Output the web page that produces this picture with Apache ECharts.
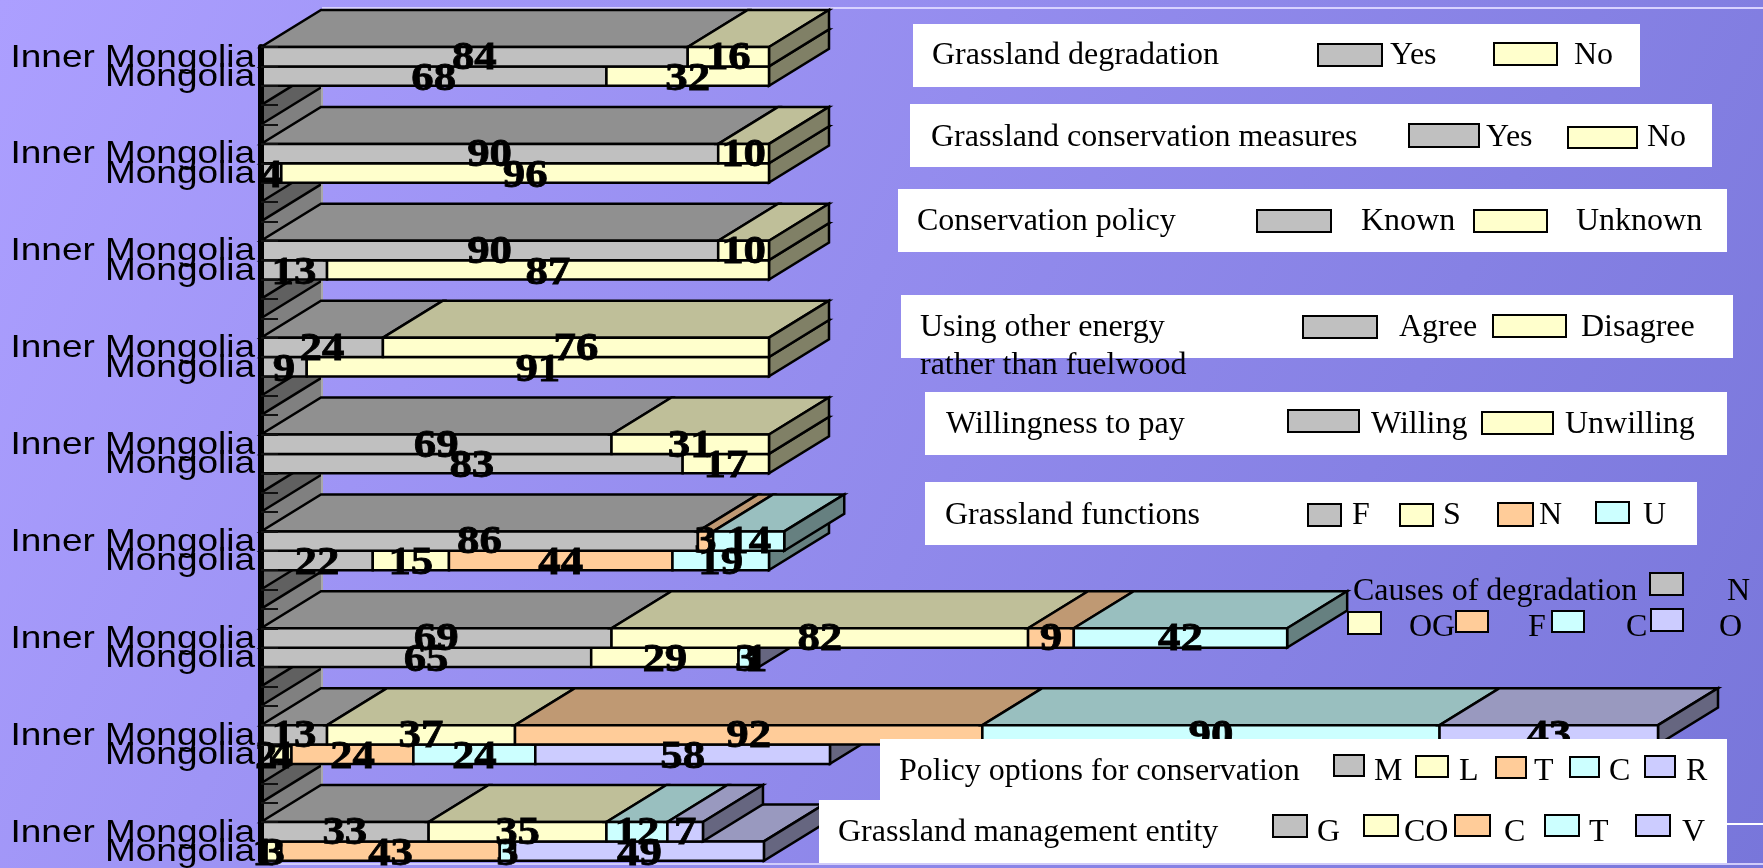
<!DOCTYPE html>
<html>
<head>
<meta charset="utf-8">
<title>Grassland survey: Inner Mongolia and Mongolia</title>
<style>
  html, body { margin: 0; padding: 0; width: 1763px; height: 868px; overflow: hidden; }
  #chart { width: 1763px; height: 868px; }
</style>
<script src="https://cdn.jsdelivr.net/npm/echarts@6/dist/echarts.min.js"></script>
</head>
<body>
<div id="chart"></div>
<script>
// Survey questions run top to bottom; each has an Inner Mongolia row, a Mongolia row and a spacer.
const rowNames = ['Inner Mongolia', 'Mongolia'];
const questionCount = 9;

// Answer shares by stack position, two values per question (Inner Mongolia, Mongolia).
const answer1 = [84, 68, 90, 4, 90, 13, 24, 9, 69, 83, 86, 22, 69, 65, 13, 2, 33, 1];
const answer2 = [16, 32, 10, 96, 10, 87, 76, 91, 31, 17, 0, 15, 82, 29, 37, 4, 35, 3];
const answer3 = [0, 0, 0, 0, 0, 0, 0, 0, 0, 0, 3, 44, 9, 0, 92, 24, 0, 43];
const answer4 = [0, 0, 0, 0, 0, 0, 0, 0, 0, 0, 14, 19, 42, 3, 90, 24, 12, 3];
const answer5 = [0, 0, 0, 0, 0, 0, 0, 0, 0, 0, 0, 0, 0, 1, 43, 58, 7, 49];
const answers = [answer1, answer2, answer3, answer4, answer5];

// Legend wording for each question.
const panelTitles = [
  'Grassland degradation', 'Grassland conservation measures', 'Conservation policy',
  'Using other energy', 'Willingness to pay', 'Grassland functions',
  'Causes of degradation', 'Policy options for conservation', 'Grassland management entity'
];
const panelTitleExtra = 'rather than fuelwood';
const panelEntries = [
  ['Yes', 'No'], ['Yes', 'No'], ['Known', 'Unknown'], ['Agree', 'Disagree'], ['Willing', 'Unwilling'],
  ['F', 'S', 'N', 'U'], ['N', 'OG', 'F', 'C', 'O'], ['M', 'L', 'T', 'C', 'R'], ['G', 'CO', 'C', 'T', 'V']
];

// Face colours for the extruded bars, one per stack position.
const frontColors = ['#C0C0C0', '#FFFFCC', '#FFCC99', '#CCFFFF', '#CCCCFF'];
const topColors = ['#909090', '#BFBF99', '#BF9973', '#99BFBF', '#9999BF'];
const sideColors = ['#606060', '#808066', '#806650', '#668080', '#666680'];
const wallColors = ['#6E6E6E', '#606060', '#808080'];

// Projection of the bar depth on screen.
const DEPTH_X = 60;
const DEPTH_Y = 37;
const STROKE = { stroke: '#000', lineWidth: 2.5, lineJoin: 'miter' };

// Five axis bands per question: two rows and three spacer bands (none after the last question).
const bandLabels = [];
for (let q = 0; q < questionCount; q++) {
  bandLabels.push(rowNames[0], rowNames[1]);
  if (q < questionCount - 1) bandLabels.push(' ', '  ', '   ');
}

// Flatten the stacks so lower rows paint first and upper rows overlap their top faces.
const segmentData = [];
const valueData = [];
const nameData = [];
for (let row = answer1.length - 1; row >= 0; row--) {
  const band = Math.floor(row / 2) * 5 + row % 2;
  let start = 0;
  let lastIndex = 0;
  answers.forEach((list, s) => { if (list[row] > 0) lastIndex = s; });
  answers.forEach((list, s) => {
    const v = list[row];
    if (v > 0) {
      segmentData.push([band, start, start + v, s, s === lastIndex ? 1 : 0]);
      valueData.push([band, start + v / 2, v, row % 2]);
      start += v;
    }
  });
  nameData.push([band, rowNames[row % 2]]);
}
const wallData = [];
bandLabels.forEach((label, band) => {
  if (band % 5 >= 2) wallData.push([band, band % 5 - 2]);
});

function renderWall(params, api) {
  const origin = api.coord([0, api.value(0)]);
  const h = api.size([0, 1])[1];
  const x = origin[0];
  const y0 = origin[1] - h / 2;
  const y1 = y0 + h;
  return {
    type: 'group',
    children: [
      { type: 'polygon', shape: { points: [[x, y0], [x + DEPTH_X, y0 - DEPTH_Y], [x + DEPTH_X, y1 - DEPTH_Y], [x, y1]] },
        style: { fill: wallColors[api.value(1)] } },
      { type: 'line', shape: { x1: x, y1: y0, x2: x + DEPTH_X, y2: y0 - DEPTH_Y }, style: { stroke: '#000', lineWidth: 2.5 } },
      { type: 'line', shape: { x1: x + DEPTH_X + 1, y1: y0 - DEPTH_Y, x2: x + DEPTH_X + 1, y2: y1 - DEPTH_Y }, style: { stroke: '#A8A8A8', lineWidth: 2 } }
    ]
  };
}

function renderSegment(params, api) {
  const band = api.value(0);
  const a = api.coord([api.value(1), band]);
  const b = api.coord([api.value(2), band]);
  const h = api.size([0, 1])[1];
  const s = api.value(3);
  const y0 = a[1] - h / 2;
  const y1 = y0 + h;
  const xa = a[0];
  const xb = b[0];
  const children = [
    { type: 'polygon', shape: { points: [[xa, y0], [xb, y0], [xb + DEPTH_X, y0 - DEPTH_Y], [xa + DEPTH_X, y0 - DEPTH_Y]] },
      style: Object.assign({ fill: topColors[s] }, STROKE) },
    { type: 'rect', shape: { x: xa, y: y0, width: xb - xa, height: h },
      style: Object.assign({ fill: frontColors[s] }, STROKE) }
  ];
  if (api.value(4)) {
    children.splice(1, 0, { type: 'polygon',
      shape: { points: [[xb, y0], [xb + DEPTH_X, y0 - DEPTH_Y], [xb + DEPTH_X, y1 - DEPTH_Y], [xb, y1]] },
      style: Object.assign({ fill: sideColors[s] }, STROKE) });
  }
  return { type: 'group', children };
}

function renderValue(params, api) {
  const p = api.coord([api.value(1), api.value(0)]);
  return {
    type: 'text', x: p[0], y: p[1] + (api.value(3) === 0 ? 2 : 3.5), scaleX: 1.12,
    style: {
      text: String(api.value(2)), fill: '#000', stroke: '#000', lineWidth: 0.8,
      fontFamily: 'Liberation Serif', fontWeight: 'bold', fontSize: 40,
      align: 'center', verticalAlign: 'middle', textAlign: 'center', textVerticalAlign: 'middle'
    }
  };
}

function renderRowName(params, api) {
  const p = api.coord([0, api.value(0)]);
  return {
    type: 'text', x: p[0] - 6, y: p[1] + 1, scaleX: 1.155,
    style: {
      text: nameData[params.dataIndex][1], fill: '#000',
      fontFamily: 'Liberation Sans', fontSize: 32,
      align: 'right', verticalAlign: 'middle', textAlign: 'right', textVerticalAlign: 'middle'
    }
  };
}

// Legend panels: white card [x0, y0, x1, y1], title anchor, then swatch box and caption x per entry.
const panelLayouts = [
  { card: [913, 24, 1640, 87], title: [932, 56], items: [[1318, 44, 1382, 66, 1390], [1494, 43, 1557, 65, 1574]], textY: 56 },
  { card: [910, 104, 1712, 167], title: [931, 138], items: [[1409, 124, 1479, 147, 1486], [1568, 127, 1637, 148, 1647]], textY: 138 },
  { card: [898, 189, 1727, 252], title: [917, 222], items: [[1257, 210, 1331, 232, 1361], [1474, 210, 1547, 232, 1576]], textY: 222 },
  { card: [901, 295, 1733, 358], title: [920, 328], items: [[1303, 316, 1377, 338, 1399], [1493, 315, 1566, 337, 1581]], textY: 328 },
  { card: [925, 392, 1727, 455], title: [946, 425], items: [[1288, 410, 1359, 432, 1371], [1482, 412, 1553, 434, 1565]], textY: 425 },
  { card: [925, 482, 1697, 545], title: [945, 516], items: [[1308, 504, 1341, 526, 1352], [1400, 504, 1433, 526, 1443], [1498, 503, 1533, 526, 1539], [1596, 502, 1629, 523, 1643]], textY: 516 },
  { title: [1353, 592], items: [[1650, 573, 1683, 595, 1727, 592], [1348, 612, 1381, 634, 1409, 628], [1456, 611, 1488, 632, 1528, 628], [1552, 611, 1584, 632, 1626, 628], [1651, 609, 1683, 631, 1719, 628]] },
  { card: [880, 739, 1727, 802], title: [899, 772], items: [[1334, 755, 1364, 776, 1374], [1416, 756, 1448, 777, 1459], [1496, 757, 1526, 778, 1534], [1570, 757, 1599, 777, 1609], [1645, 756, 1675, 777, 1686]], textY: 772 },
  { card: [819, 800, 1727, 863], title: [838, 833], items: [[1273, 815, 1307, 837, 1317], [1364, 815, 1398, 836, 1404], [1455, 815, 1490, 836, 1504], [1545, 815, 1579, 836, 1589], [1636, 815, 1670, 836, 1682]], textY: 833 }
];

function serifText(text, x, y, z) {
  return {
    type: 'text', x, y, scaleX: 1.0, z,
    style: { text, fill: '#000', fontFamily: 'Liberation Serif', fontSize: 32, verticalAlign: 'middle', textVerticalAlign: 'middle' }
  };
}

const overlay = [
  { type: 'rect', z: 0, shape: { x: 322, y: 7, width: 1441, height: 2 }, style: { fill: '#D8D2FF' } },
  { type: 'rect', z: 0, shape: { x: 262, y: 863, width: 1501, height: 2 }, style: { fill: '#D0CCFA' } },
  { type: 'rect', z: 0, shape: { x: 1700, y: 823, width: 63, height: 2 }, style: { fill: '#FFFFFF' } }
];
panelLayouts.forEach((layout, i) => {
  const z = 60 + i * 3;
  if (layout.card) {
    const c = layout.card;
    overlay.push({ type: 'rect', z, shape: { x: c[0], y: c[1], width: c[2] - c[0], height: c[3] - c[1] }, style: { fill: '#FFFFFF' } });
  }
  overlay.push(serifText(panelTitles[i], layout.title[0], layout.title[1], z + 1));
  layout.items.forEach((item, k) => {
    overlay.push({
      type: 'rect', z: z + 1,
      shape: { x: item[0], y: item[1], width: item[2] - item[0], height: item[3] - item[1] },
      style: { fill: frontColors[k], stroke: '#000', lineWidth: 2 }
    });
    overlay.push(serifText(panelEntries[i][k], item[4], item.length > 5 ? item[5] : layout.textY, z + 1));
  });
});
overlay.push(serifText(panelTitleExtra, 920, 366, 90));

const chart = echarts.init(document.getElementById('chart'), null, { renderer: 'canvas' });
chart.setOption({
  animation: false,
  backgroundColor: {
    type: 'linear', x: 0, y: 0, x2: 1, y2: 1,
    colorStops: [{ offset: 0, color: '#AC9FFF' }, { offset: 1, color: '#7876DA' }]
  },
  grid: { left: 261, top: 47, width: 1524, height: 813.75, outerBoundsMode: 'none' },
  xAxis: { type: 'value', min: 0, max: 300, show: false },
  yAxis: {
    type: 'category', inverse: true, data: bandLabels, z: 10,
    axisLine: { show: true, lineStyle: { color: '#000', width: 6 } },
    axisTick: { show: true, inside: true, interval: 0, length: 17, lineStyle: { color: '#111', width: 2 } },
    axisLabel: { show: false },
    splitLine: { show: false }
  },
  graphic: { elements: overlay },
  series: [
    { type: 'custom', name: 'wall', z: 1, clip: false, silent: true, renderItem: renderWall, data: wallData, encode: { x: -1, y: 0 } },
    { type: 'custom', name: 'bars', z: 2, clip: false, silent: true, renderItem: renderSegment, data: segmentData, encode: { x: [1, 2], y: 0 } },
    { type: 'custom', name: 'row names', z: 12, clip: false, silent: true, renderItem: renderRowName, data: nameData.map(d => [d[0]]), encode: { x: -1, y: 0 } },
    { type: 'custom', name: 'values', z: 13, clip: false, silent: true, renderItem: renderValue, data: valueData, encode: { x: 1, y: 0 } }
  ]
});
</script>
</body>
</html>
